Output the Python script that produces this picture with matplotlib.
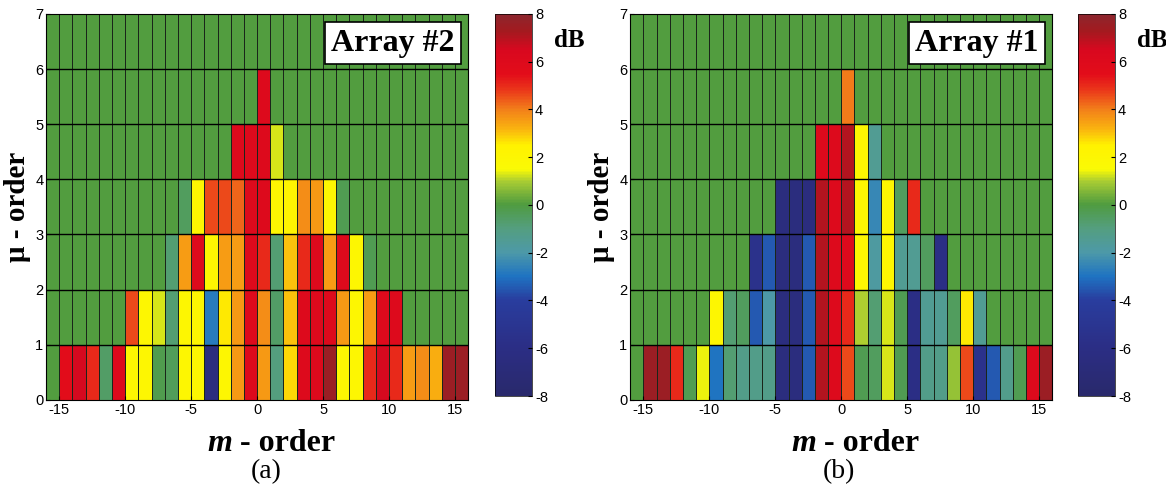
import numpy as np
import matplotlib.pyplot as plt
from matplotlib.colors import LinearSegmentedColormap

plt.rcParams["axes.unicode_minus"] = False

# column edges of the m-order cells and row edges of the mu-order cells
m_edges = np.arange(-16, 17)
mu_edges = np.arange(0, 8)
x_ticks = [-15, -10, -5, 0, 5, 10, 15]
y_ticks = [0, 1, 2, 3, 4, 5, 6, 7]
cbar_ticks = [-8, -6, -4, -2, 0, 2, 4, 6, 8]

# Array #2 (panel a), dB per cell, columns m = -16 ... 15
a_mu0 = [0, 5.5, 6.5, 5.0, -0.6, 6.0, 2.0, 2.0, -0.2, -0.4, 2.0, 2.0, -6.5, 2.0, 3.6, 6.0,
         3.6, -1.0, 2.8, 6.0, 6.0, 7.5, 2.0, 2.0, 5.0, 6.5, 5.0, 3.5, 3.8, 3.3, 7.5, 7.5]
a_mu1 = [0, 0, 0, 0, 0, 0, 4.6, 2.0, 1.3, -0.8, 2.0, 2.0, -2.8, 2.6, 3.6, 6.0,
         3.8, -0.6, 3.0, 6.0, 6.0, 6.0, 3.6, 2.0, 3.5, 6.0, 6.0, 0, 0, 0, 0, 0]
a_mu2 = [0, 0, 0, 0, 0, 0, 0, 0, 0, -0.8, 3.5, 6.0, 2.0, 3.5, 3.5, 6.0,
         5.0, -0.8, 3.0, 5.0, 6.0, 3.5, 6.0, 2.0, -0.3, 0, 0, 0, 0, 0, 0, 0]
a_mu3 = [0, 0, 0, 0, 0, 0, 0, 0, 0, 0, -0.5, 2.0, 4.6, 4.6, 4.3, 6.0,
         6.0, 2.0, 2.2, 3.8, 3.6, 2.0, -0.3, 0, 0, 0, 0, 0, 0, 0, 0, 0]
a_mu4 = [0, 0, 0, 0, 0, 0, 0, 0, 0, 0, 0, 0, 0, 0, 6.0, 6.0,
         6.0, 1.3, 0, 0, 0, 0, 0, 0, 0, 0, 0, 0, 0, 0, 0, 0]
a_mu5 = [0, 0, 0, 0, 0, 0, 0, 0, 0, 0, 0, 0, 0, 0, 0, 0,
         6.0, 0, 0, 0, 0, 0, 0, 0, 0, 0, 0, 0, 0, 0, 0, 0]
a_mu6 = [0] * 32

# Array #1 (panel b)
b_mu0 = [0, 7.5, 7.5, 5.0, -0.3, 1.4, -3.0, -0.8, -1.2, -1.2, -1.2, -6.5, -6.5, -3.5, 7.0, 6.0,
         4.6, -0.3, -0.5, 1.3, -0.3, -6.0, -1.2, -1.2, 0.8, 4.6, -5.5, -3.5, -1.3, -0.3, 6.0, 7.5]
b_mu1 = [0, 0, 0, 0, 0, 0, 2.0, -0.8, -0.5, -3.5, -2.0, -6.5, -6.5, -3.5, 7.0, 6.0,
         5.0, 1.0, -0.8, 1.3, -0.3, -6.0, -1.5, -1.5, -0.5, 2.6, -1.5, 0, 0, 0, 0, 0]
b_mu2 = [0, 0, 0, 0, 0, 0, 0, 0, 0, -5.5, -3.5, -6.5, -6.5, -3.5, 7.0, 6.0,
         6.0, 2.0, -1.8, 2.0, -1.5, -1.5, -0.5, -6.0, 0, 0, 0, 0, 0, 0, 0, 0]
b_mu3 = [0, 0, 0, 0, 0, 0, 0, 0, 0, 0, 0, -6.5, -6.5, -6.5, 7.0, 6.0,
         7.0, 2.0, -2.5, 2.0, -0.5, 5.0, 0, 0, 0, 0, 0, 0, 0, 0, 0, 0]
b_mu4 = [0, 0, 0, 0, 0, 0, 0, 0, 0, 0, 0, 0, 0, 0, 6.0, 6.0,
         7.0, 2.0, -1.5, 0, 0, 0, 0, 0, 0, 0, 0, 0, 0, 0, 0, 0]
b_mu5 = [0, 0, 0, 0, 0, 0, 0, 0, 0, 0, 0, 0, 0, 0, 0, 0,
         4.0, 0, 0, 0, 0, 0, 0, 0, 0, 0, 0, 0, 0, 0, 0, 0]
b_mu6 = [0] * 32

grid_a = np.array([a_mu0, a_mu1, a_mu2, a_mu3, a_mu4, a_mu5, a_mu6])
grid_b = np.array([b_mu0, b_mu1, b_mu2, b_mu3, b_mu4, b_mu5, b_mu6])

# jet-like map with green at 0 dB
nodes = [
    (-8.0, (0.16, 0.16, 0.42)),
    (-6.0, (0.17, 0.18, 0.52)),
    (-4.0, (0.16, 0.24, 0.62)),
    (-3.0, (0.12, 0.45, 0.76)),
    (-2.0, (0.30, 0.60, 0.66)),
    (-1.0, (0.33, 0.62, 0.50)),
    (0.0, (0.31, 0.61, 0.25)),
    (1.0, (0.66, 0.80, 0.20)),
    (1.5, (0.98, 0.98, 0.02)),
    (2.5, (1.00, 0.95, 0.00)),
    (3.2, (0.98, 0.70, 0.06)),
    (4.0, (0.95, 0.50, 0.10)),
    (4.8, (0.92, 0.22, 0.10)),
    (5.5, (0.89, 0.05, 0.10)),
    (6.5, (0.85, 0.03, 0.12)),
    (7.3, (0.64, 0.10, 0.12)),
    (8.0, (0.55, 0.15, 0.18)),
]
cmap = LinearSegmentedColormap.from_list(
    "db", [((v + 8) / 16, c) for v, c in nodes])

fig = plt.figure(figsize=(11.66, 4.95), dpi=100)
serif = "Liberation Serif"
sans = "Liberation Sans"

panels = [
    (grid_a, "Array #2", "(a)", 0.0395, 0.4245, 0.521),
    (grid_b, "Array #1", "(b)", 0.5405, 0.9245, 0.495),
]
for grid, name, tag, x0, cx0, tag_x in panels:
    ax = fig.add_axes([x0, 0.192, 0.362, 0.78])
    mesh = ax.pcolormesh(m_edges, mu_edges, grid, cmap=cmap, vmin=-8, vmax=8,
                         edgecolors=(0.1, 0.15, 0.1), linewidth=0.6)
    for y in y_ticks[1:-1]:
        ax.axhline(y, color="black", lw=1.0)
    ax.set_xlim(-16, 16)
    ax.set_ylim(0, 7)
    ax.set_xticks(x_ticks)
    ax.set_yticks(y_ticks)
    ax.tick_params(direction="in", length=3, labelsize=10.5, pad=2)
    for lab in ax.get_xticklabels() + ax.get_yticklabels():
        lab.set_fontfamily(sans)
    ax.set_ylabel("\u03bc - order", fontfamily=serif, fontweight="bold",
                  fontsize=21, labelpad=3)
    # x label with bold italic m
    ax.annotate("m", xy=(0.44, -0.076), xycoords="axes fraction", ha="right",
                va="top", fontfamily=serif, fontweight="bold", style="italic",
                fontsize=23)
    ax.annotate(" - order", xy=(0.44, -0.076), xycoords="axes fraction",
                ha="left", va="top", fontfamily=serif, fontweight="bold",
                fontsize=23)
    ax.text(tag_x, -0.152, tag, transform=ax.transAxes, ha="center", va="top",
            fontfamily=serif, fontsize=20)
    ax.text(0.968, 0.962, name, transform=ax.transAxes, ha="right", va="top",
            fontfamily=serif, fontweight="bold", fontsize=23,
            bbox=dict(facecolor="white", edgecolor="black", lw=1.2,
                      boxstyle="square,pad=0.2"))

    cax = fig.add_axes([cx0, 0.2, 0.032, 0.772])
    cb = fig.colorbar(mesh, cax=cax, ticks=cbar_ticks)
    cb.outline.set_linewidth(0.5)
    cax.tick_params(direction="in", length=3, labelsize=10.5, pad=2)
    for lab in cax.get_yticklabels():
        lab.set_fontfamily(sans)
    cax.text(2.0, 0.93, "dB", transform=cax.transAxes, ha="center",
             va="center", fontfamily=serif, fontweight="bold", fontsize=18)

fig.savefig("out.png", dpi=100)
